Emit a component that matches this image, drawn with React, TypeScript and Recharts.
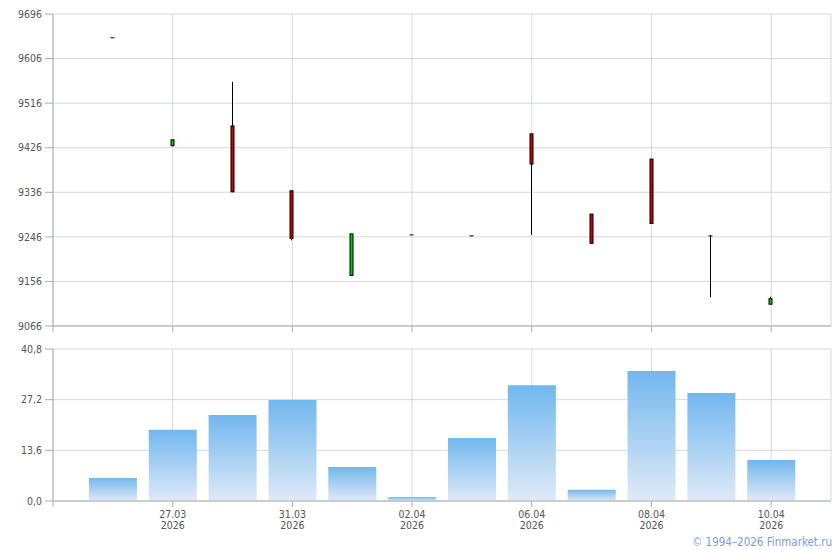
import React from 'react';
import { ComposedChart, BarChart, Bar, XAxis, YAxis, CartesianGrid } from 'recharts';

const dates = ['26.03', '27.03', '30.03', '31.03', '01.04', '02.04', '03.04', '06.04', '07.04', '08.04', '09.04', '10.04'];
const yearLabel = '2026';
const opens = [9648, 9430, 9470, 9339, 9168, 9250, 9248, 9454, 9292, 9403, 9248, 9110];
const closes = [9648, 9442, 9337, 9243, 9252, 9250, 9248, 9393, 9233, 9273, 9248, 9121];
const highs = [9648, 9442, 9559, 9339, 9252, 9250, 9248, 9454, 9292, 9403, 9248, 9125];
const lows = [9648, 9430, 9336, 9239, 9168, 9250, 9248, 9250, 9233, 9273, 9124, 9110];
const volumes = [6.2, 19.1, 23.1, 27.1, 9.1, 1.1, 16.9, 31.1, 3.0, 34.9, 29.0, 11.0];
const priceTicks = [9066, 9156, 9246, 9336, 9426, 9516, 9606, 9696];
const volumeTicks = [0, 13.6, 27.2, 40.8];
const xTicks = [0, 2, 4, 6, 8, 10, 12];
const copyright = '© 1994–2026 Finmarket.ru';

const data = dates.map((d, k) => ({
  i: k + 1,
  date: d,
  open: opens[k],
  close: closes[k],
  high: highs[k],
  low: lows[k],
  volume: volumes[k],
}));

const FONT = "'DejaVu Sans Condensed', 'DejaVu Sans', sans-serif";
const TEXT = '#555';
const GRID = '#d4d8dc';
const AXIS = '#a9adb4';

const Candle = (props: any) => {
  const { x, y, width, height, payload } = props;
  const { open, close, high, low } = payload;
  const cx = Math.round(x + width / 2) - 0.5;
  const top = Math.min(y, y + height);
  const h = Math.abs(height);
  const range = high - low;
  const ratio = range > 0 ? h / range : 0;
  const yOf = (v: number) => top + (high - v) * ratio;
  const bTop = yOf(Math.max(open, close));
  const bBot = yOf(Math.min(open, close));
  const up = close > open;
  const flat = open === close;
  return (
    <g>
      {range > 0 && <line x1={cx} x2={cx} y1={top} y2={top + h} stroke="#000" strokeWidth={1} />}
      {flat ? (
        <line x1={cx - 2} x2={cx + 2} y1={bTop} y2={bTop} stroke="#000" strokeWidth={1} />
      ) : (
        <rect x={cx - 1.5} y={bTop} width={3} height={Math.max(bBot - bTop, 1)} fill={up ? '#00c800' : '#d00000'} stroke="#000" strokeWidth={1} />
      )}
    </g>
  );
};

const EmptyTick = () => <g />;

const DateTick = (props: any) => {
  const { x, y, payload } = props;
  const idx = payload.value;
  if (!idx) return <g />;
  return (
    <g>
      <text x={x} y={y + 9} textAnchor="middle" fontSize={10.5} fontFamily={FONT} fill={TEXT}>{dates[idx - 1]}</text>
      <text x={x} y={y + 20} textAnchor="middle" fontSize={10.5} fontFamily={FONT} fill={TEXT}>{yearLabel}</text>
    </g>
  );
};

const fmtVol = (v: number) => v.toFixed(1).replace('.', ',');

export default function App() {
  return (
    <div style={{ position: 'absolute', left: 0, top: 0, width: 840, height: 550, background: '#fff' }}>
      <div style={{ position: 'absolute', left: 0, top: 0 }}>
        <ComposedChart width={840} height={340} data={data} margin={{ top: 14, right: 9, left: 0, bottom: 0 }}>
          <CartesianGrid stroke={GRID} strokeWidth={1} />
          <XAxis
            dataKey="i"
            type="number"
            domain={[0, 13]}
            ticks={xTicks}
            height={14}
            tick={EmptyTick}
            tickSize={6}
            axisLine={{ stroke: AXIS }}
            tickLine={{ stroke: AXIS }}
            allowDataOverflow
          />
          <YAxis
            type="number"
            domain={[9066, 9696]}
            ticks={priceTicks}
            width={53}
            tickSize={8}
            tickMargin={3}
            allowDataOverflow
            axisLine={{ stroke: AXIS }}
            tickLine={{ stroke: AXIS }}
            tick={{ fontSize: 10.5, fontFamily: FONT, fill: TEXT }}
          />
          <Bar dataKey={(d: any) => [d.low, d.high]} barSize={4} shape={Candle} isAnimationActive={false} />
        </ComposedChart>
      </div>
      <div style={{ position: 'absolute', left: 0, top: 330 }}>
        <BarChart width={840} height={210} data={data} margin={{ top: 19, right: 9, left: 0, bottom: 0 }}>
          <defs>
            <linearGradient id="volGrad" x1="0" y1="0" x2="0" y2="1">
              <stop offset="0%" stopColor="#72b7ee" />
              <stop offset="100%" stopColor="#dfeaf7" />
            </linearGradient>
          </defs>
          <CartesianGrid stroke={GRID} strokeWidth={1} />
          <XAxis
            dataKey="i"
            type="number"
            domain={[0, 13]}
            ticks={xTicks}
            height={39}
            tick={DateTick}
            tickSize={6}
            tickMargin={2}
            axisLine={{ stroke: AXIS }}
            tickLine={{ stroke: AXIS }}
            allowDataOverflow
          />
          <YAxis
            type="number"
            domain={[0, 40.8]}
            ticks={volumeTicks}
            width={53}
            tickSize={8}
            tickMargin={3}
            allowDataOverflow
            tickFormatter={fmtVol}
            axisLine={{ stroke: AXIS }}
            tickLine={{ stroke: AXIS }}
            tick={{ fontSize: 10.5, fontFamily: FONT, fill: TEXT }}
          />
          <Bar dataKey="volume" barSize={48} fill="url(#volGrad)" isAnimationActive={false} />
        </BarChart>
      </div>
      <div
        style={{
          position: 'absolute',
          right: 8,
          top: 536,
          fontSize: 11.5,
          fontFamily: FONT,
          color: '#7d9be0',
          lineHeight: '12px',
          whiteSpace: 'nowrap',
        }}
      >
        {copyright}
      </div>
    </div>
  );
}
